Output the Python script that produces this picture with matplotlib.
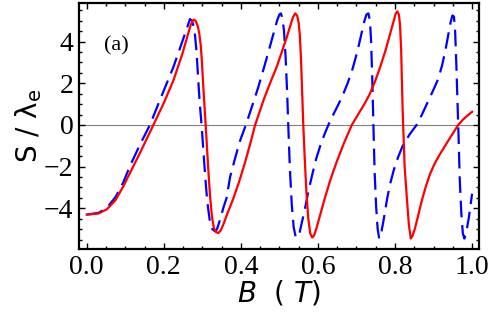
import matplotlib
matplotlib.use("Agg")
import matplotlib.pyplot as plt
from matplotlib.ticker import MultipleLocator

# values
b_red = [0.0, 0.03, 0.052, 0.075, 0.095, 0.115, 0.138, 0.173, 0.2, 0.225, 0.248, 0.262,
         0.27, 0.275, 0.2785, 0.283, 0.288, 0.292, 0.296, 0.299, 0.302, 0.306, 0.31,
         0.315, 0.32, 0.325, 0.33, 0.336, 0.342, 0.348, 0.355, 0.365, 0.38, 0.395, 0.41,
         0.425, 0.437, 0.46, 0.48, 0.493, 0.508, 0.519, 0.528, 0.535, 0.541, 0.546, 0.55,
         0.553, 0.556, 0.559, 0.562, 0.566, 0.57, 0.575, 0.58, 0.585, 0.59, 0.597, 0.606,
         0.618, 0.632, 0.648, 0.668, 0.688, 0.71, 0.722, 0.735, 0.748, 0.761, 0.775,
         0.787, 0.796, 0.802, 0.806, 0.81, 0.813, 0.816, 0.818, 0.82, 0.825, 0.831, 0.836,
         0.841, 0.846, 0.852, 0.86, 0.87, 0.88, 0.891, 0.903, 0.915, 0.925, 0.94, 0.952,
         0.964, 0.976, 0.988, 1.0]
s_red = [-4.3, -4.25, -4.05, -3.6, -2.94, -2.2, -1.35, 0.0, 1.05, 2.14, 3.4, 4.3,
         4.8, 5.0, 5.05, 4.98, 4.75, 4.4, 3.8, 3.0, 2.0, 0.8, -0.4,
         -2.0, -3.4, -4.4, -4.95, -5.15, -5.18, -5.05, -4.75, -4.25, -3.55, -2.75, -1.85,
         -0.85, 0.0, 1.25, 2.2, 2.78, 3.6, 4.2, 4.75, 5.15, 5.35, 5.25, 4.9,
         4.3, 3.2, 1.6, 0.0, -1.7, -3.2, -4.5, -5.2, -5.4, -5.3, -4.9, -4.3,
         -3.5, -2.65, -1.8, -0.85, 0.0, 0.68, 1.05, 1.5, 2.08, 2.75, 3.55,
         4.35, 4.95, 5.35, 5.45, 5.3, 4.8, 3.6, 2.0, 0.6, -2.0, -3.57, -4.8,
         -5.45, -5.3, -4.95, -4.35, -3.6, -2.95, -2.35, -1.85, -1.45, -1.15, -0.7, -0.35,
         0.0, 0.25, 0.45, 0.63]

b_blue = [0.0, 0.03, 0.052, 0.075, 0.095, 0.112, 0.138, 0.164, 0.19, 0.225, 0.248, 0.262,
          0.268, 0.273, 0.277, 0.281, 0.285, 0.289, 0.293, 0.298, 0.303, 0.308, 0.313,
          0.319, 0.326, 0.333, 0.338, 0.345, 0.355, 0.363, 0.372, 0.385, 0.398, 0.413,
          0.43, 0.445, 0.46, 0.473, 0.485, 0.494, 0.5, 0.504, 0.508, 0.512, 0.516, 0.52,
          0.523, 0.527, 0.532, 0.537, 0.542, 0.547, 0.552, 0.558, 0.566, 0.575, 0.585,
          0.595, 0.606, 0.617, 0.627, 0.64, 0.653, 0.666, 0.678, 0.69, 0.702, 0.712, 0.72,
          0.726, 0.731, 0.735, 0.738, 0.741, 0.744, 0.747, 0.751, 0.755, 0.759, 0.764,
          0.771, 0.779, 0.787, 0.797, 0.808, 0.82, 0.838, 0.856, 0.87, 0.885, 0.9, 0.912,
          0.922, 0.93, 0.937, 0.944, 0.949, 0.953, 0.956, 0.959, 0.962, 0.965, 0.968,
          0.972, 0.976, 0.98, 0.985, 0.992, 1.0]
s_blue = [-4.3, -4.22, -3.98, -3.45, -2.75, -1.98, -0.95, 0.0, 1.2, 2.78, 4.0, 4.75,
          5.08, 5.0, 4.75, 4.3, 3.5, 2.3, 1.1, 0.0, -1.3, -2.6, -3.7,
          -4.55, -5.0, -5.1, -5.0, -4.6, -3.95, -3.5, -2.5, -1.6, -0.75, 0.0,
          0.95, 1.8, 2.75, 3.6, 4.4, 5.0, 5.3, 5.35, 5.1, 4.5, 3.3, 1.6,
          0.0, -2.0, -3.8, -4.9, -5.35, -5.4, -5.2, -4.7, -4.05, -3.2, -2.4,
          -1.65, -1.0, -0.45, 0.0, 0.5, 0.98, 1.5, 2.05, 2.7, 3.5, 4.3, 4.95,
          5.3, 5.35, 5.0, 4.0, 2.2, 0.0, -2.2, -3.9, -5.0, -5.45, -5.2,
          -4.5, -3.6, -2.85, -2.15, -1.55, -1.0, -0.45, 0.0, 0.5, 1.1, 1.7, 2.2,
          2.85, 3.5, 4.2, 4.9, 5.25, 5.2, 4.5, 3.0, 1.2, -0.6, -2.6,
          -4.2, -5.2, -5.45, -5.15, -4.4, -3.3]

x_ticks = [0.0, 0.2, 0.4, 0.6, 0.8, 1.0]
y_ticks = [-4, -2, 0, 2, 4]

fig = plt.figure(figsize=(4.92, 3.21), dpi=100)
ax = fig.add_axes([0.1606, 0.2243, 0.813, 0.7664])

ax.axhline(0, color="0.5", lw=0.8, zorder=1)
ax.plot(b_blue, s_blue, color="#0000ff", lw=1.6, dashes=(7.5, 3.5), zorder=2)
ax.plot(b_red, s_red, color="#ff0000", lw=1.6, zorder=3)

ax.set_xlim(-0.02, 1.018)
ax.set_ylim(-5.95, 5.85)
ax.set_xticks(x_ticks)
ax.set_yticks(y_ticks)
ax.xaxis.set_minor_locator(MultipleLocator(0.05))
ax.yaxis.set_minor_locator(MultipleLocator(0.5))
ax.set_xticklabels([f"{v:.1f}" for v in x_ticks])
ax.set_yticklabels([str(v).replace("-", "\u2212") for v in y_ticks])

ax.tick_params(which="both", direction="in", top=True, right=True, width=1.0,
               labelsize=20, pad=4)
ax.tick_params(which="major", length=4)
ax.tick_params(which="minor", length=2)
for lab in ax.get_xticklabels() + ax.get_yticklabels():
    lab.set_family("Liberation Serif")
for sp in ax.spines.values():
    sp.set_linewidth(1.6)

ax.set_xlabel(r"$B$  ( $T$)", fontsize=20, labelpad=-1)
ax.set_ylabel("S / λ$_\\mathregular{e}$", fontsize=20, labelpad=0)
ax.text(0.076, 3.8, "(a)", family="Liberation Serif", fontsize=16,
        ha="center", va="center")

fig.savefig("out.png", dpi=100)
